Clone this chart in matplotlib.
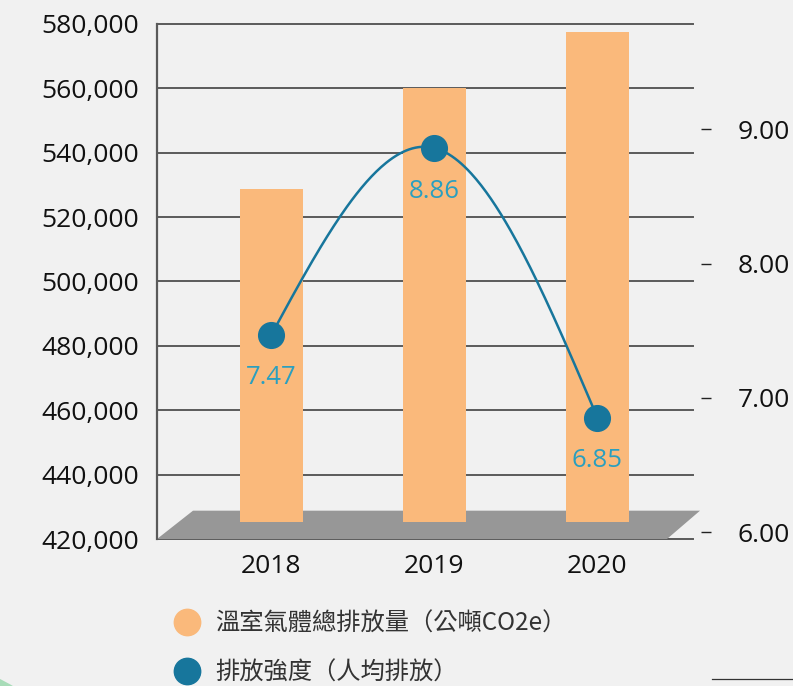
import numpy as np
import matplotlib
matplotlib.use('Agg')
import matplotlib.pyplot as plt
from matplotlib.patches import Polygon, Circle
from matplotlib.lines import Line2D

# ---- data ----
years = ['2018', '2019', '2020']
emissions = [528800, 560100, 577400]          # 溫室氣體總排放量（公噸CO2e）
intensity = [7.47, 8.86, 6.85]                # 排放強度（人均排放）
left_ticks = list(range(420000, 580001, 20000))
right_ticks = [6.0, 7.0, 8.0, 9.0]
legend_labels = ['溫室氣體總排放量（公噸CO2e）', '排放強度（人均排放）']

# ---- style ----
BAR_C = '#FAB97B'
LINE_C = '#17769C'
LABEL_C = '#2A9FBF'
GRID_C = '#5a5a5a'
BG = '#f1f1f1'

plt.rcParams['font.family'] = ['Open Sans', 'Noto Sans CJK TC', 'DejaVu Sans']

W, H = 793, 686
fig = plt.figure(figsize=(W / 100, H / 100), dpi=100, facecolor=BG)


def px_rect(x0, ytop, x1, ybot):
    return [x0 / W, 1 - ybot / H, (x1 - x0) / W, (ybot - ytop) / H]


ax = fig.add_axes(px_rect(157, 24, 693, 539))
ax.set_facecolor('none')
x = np.arange(len(years))
ax.set_xlim(-0.702, 2.586)
ax.set_ylim(left_ticks[0], left_ticks[-1])
ax.set_yticks(left_ticks)
ax.set_yticklabels([f'{v:,}' for v in left_ticks])
ax.set_xticks(x)
ax.set_xticklabels(years)
ax.yaxis.grid(True, color=GRID_C, lw=1.4)
ax.set_axisbelow(True)
for ln in ax.get_ygridlines():
    ln.set_clip_on(False)
for s in ['top', 'right', 'bottom']:
    ax.spines[s].set_visible(False)
ax.spines['left'].set_color(GRID_C)
ax.spines['left'].set_linewidth(1.6)
ax.tick_params(axis='y', length=0, pad=13.3, labelsize=19, labelcolor='#111111')
ax.tick_params(axis='x', length=0, pad=11, labelsize=19, labelcolor='#111111')

# floor of the pseudo-3D chart
floor = Polygon([(0, 0.0), (0.9515, 0.0), (1.0131, 0.055), (0.0672, 0.055)],
                closed=True, transform=ax.transAxes, facecolor='#979797',
                edgecolor='none', clip_on=False, zorder=1.5)
ax.add_patch(floor)

base = 425400
ax.bar(x, np.array(emissions) - base, bottom=base, width=0.386,
       color=BAR_C, zorder=2)

# ---- right axis ----
ax2 = ax.twinx()
ax2.set_ylim(5.948, 9.784)
ax2.set_yticks(right_ticks)
ax2.set_yticklabels([f'{v:.2f}' for v in right_ticks])
for s in ax2.spines.values():
    s.set_visible(False)
ax2.spines['right'].set_position(('outward', 5.76))
ax2.tick_params(axis='y', length=7.2, width=1.0, color='#222222', pad=19.4,
                labelsize=19, labelcolor='#111111')


def natural_spline(xk, yk, xs):
    xk = np.asarray(xk, float)
    yk = np.asarray(yk, float)
    n = len(xk)
    h = np.diff(xk)
    A = np.zeros((n, n))
    r = np.zeros(n)
    A[0, 0] = A[-1, -1] = 1
    for i in range(1, n - 1):
        A[i, i - 1] = h[i - 1]
        A[i, i] = 2 * (h[i - 1] + h[i])
        A[i, i + 1] = h[i]
        r[i] = 6 * ((yk[i + 1] - yk[i]) / h[i] - (yk[i] - yk[i - 1]) / h[i - 1])
    M = np.linalg.solve(A, r)
    out = np.empty_like(xs)
    for j, xv in enumerate(xs):
        i = min(max(np.searchsorted(xk, xv) - 1, 0), n - 2)
        t0 = xk[i + 1] - xv
        t1 = xv - xk[i]
        out[j] = (M[i] * t0 ** 3 + M[i + 1] * t1 ** 3) / (6 * h[i]) \
            + (yk[i] / h[i] - M[i] * h[i] / 6) * t0 \
            + (yk[i + 1] / h[i] - M[i + 1] * h[i] / 6) * t1
    return out


xs = np.linspace(x[0], x[-1], 200)
ax2.plot(xs, natural_spline(x, intensity, xs), color=LINE_C, lw=1.8, zorder=3)
ax2.plot(x, intensity, 'o', color=LINE_C, markersize=18.5, zorder=4)
for xi, v in zip(x, intensity):
    ax2.annotate(f'{v:.2f}', (xi, v), xytext=(0, -31), textcoords='offset points',
                 ha='center', va='center', color=LABEL_C, fontsize=18.5, zorder=5)

# ---- legend ----
handles = [Line2D([], [], marker='o', linestyle='none', color=BAR_C, markersize=19),
           Line2D([], [], marker='o', linestyle='none', color=LINE_C, markersize=19)]
fig.legend(handles, legend_labels, loc='upper left',
           bbox_to_anchor=(175 / W, 1 - 611 / H), frameon=False,
           prop={'family': ['Noto Sans CJK TC', 'DejaVu Sans'], 'size': 17.5},
           labelcolor='#333333', handlelength=1.0, handletextpad=0.66,
           borderpad=0, borderaxespad=0, labelspacing=0.92)

# ---- decorations ----
fig.add_artist(Circle((-1.0, -1.94), 2.245, transform=fig.dpi_scale_trans,
                      facecolor='#a8dcb8', edgecolor='none'))
fig.add_artist(Line2D([711.7 / W, 1], [1 - 678.7 / H] * 2,
                      transform=fig.transFigure, color='#333333', lw=0.9))

fig.savefig('out.png', dpi=100, facecolor=BG)
